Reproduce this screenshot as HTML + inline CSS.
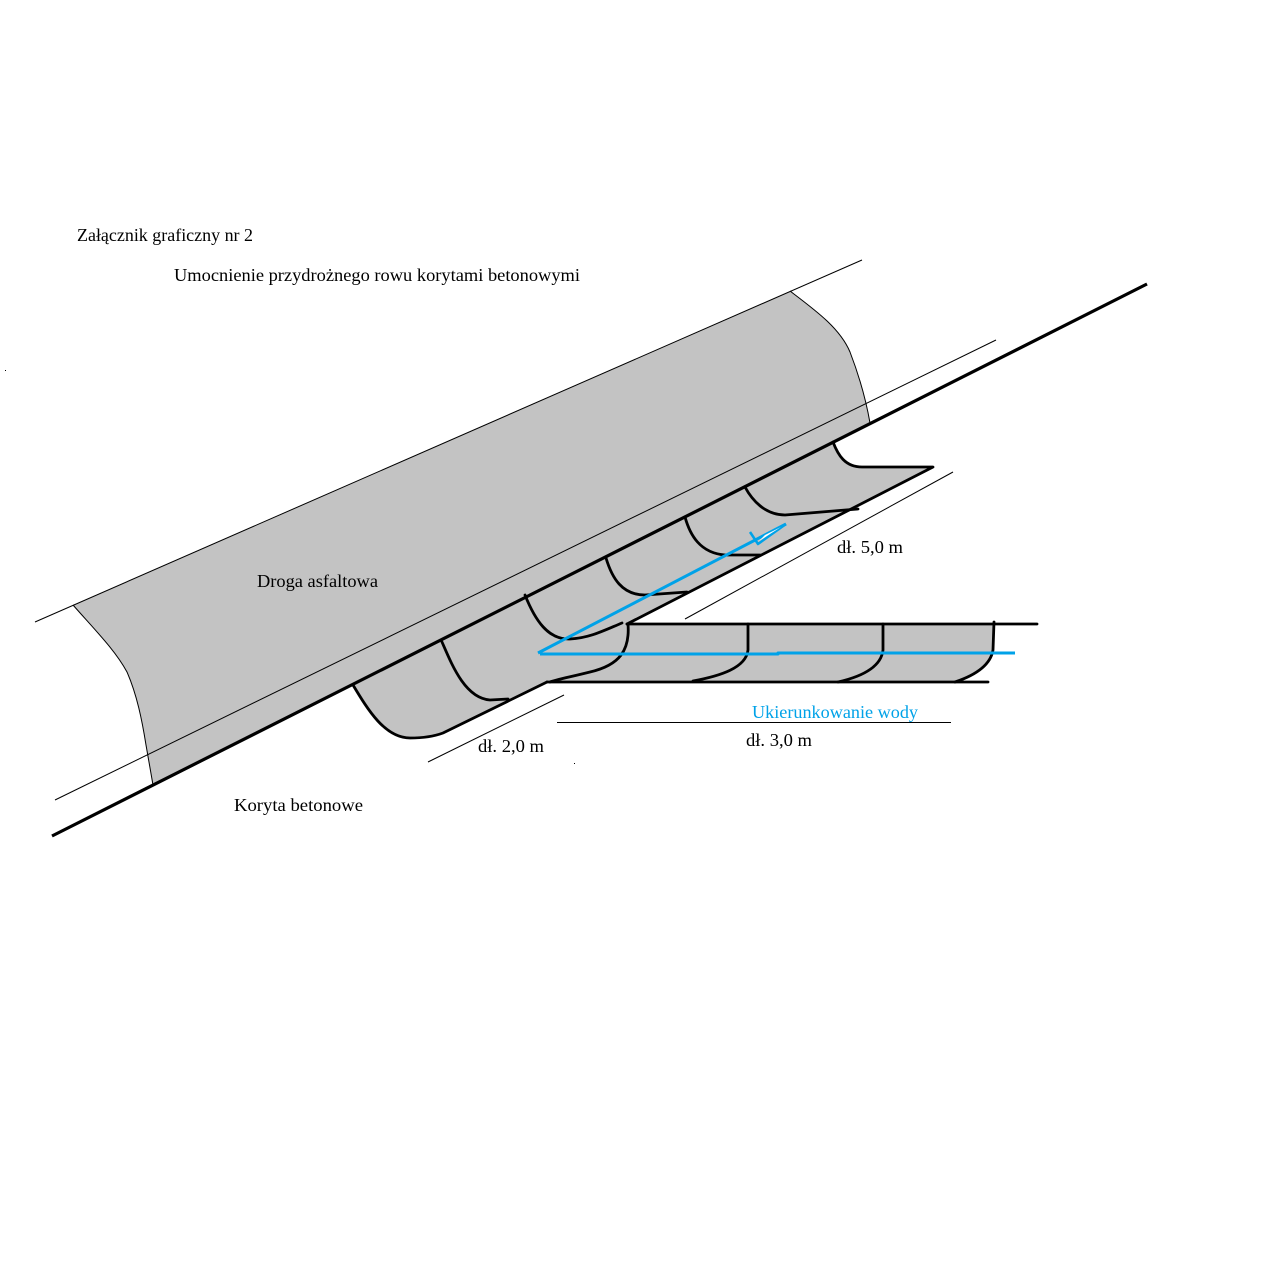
<!DOCTYPE html>
<html>
<head>
<meta charset="utf-8">
<style>
  html, body { margin: 0; padding: 0; background: #ffffff; }
  body { width: 1264px; height: 1264px; overflow: hidden; }
  svg { display: block; }
  text { font-family: "Liberation Serif", "DejaVu Serif", serif; font-size: 18.4px; }
</style>
</head>
<body>
<svg width="1264" height="1264" viewBox="0 0 1264 1264" xmlns="http://www.w3.org/2000/svg">
  <rect x="0" y="0" width="1264" height="1264" fill="#ffffff"/>

  <!-- Road gray fill -->
  <path d="M73,605 L790,291 C815,310 840,328 850,352 C860,378 866,400 870,423 L153,785 L146,745 C142,720 137,695 127,672 C115,650 95,630 73,605 Z" fill="#c3c3c3"/>

  <!-- Trough gray fill -->
  <path d="M353,685 C368,710 385,738 410,738 C425,738 435,736 443,733 L547,682 L955,682 C975,675 990,665 993,645 L994,624 L627,624 L933,467 L862,467 C845,467 838,455 833,442 Z" fill="#c3c3c3"/>

  <!-- Thin lines -->
  <g stroke="#000" stroke-width="1" fill="none">
    <line x1="35" y1="622" x2="862" y2="260"/>
    <line x1="55" y1="800" x2="996" y2="340"/>
    <path d="M790,291 C815,310 840,328 850,352 C860,378 866,400 870,423"/>
    <path d="M73,605 C95,630 115,650 127,672 C137,695 142,720 146,745 L153,785"/>
    <!-- dimension lines -->
    <line x1="685" y1="619" x2="953" y2="472"/>
    <line x1="428" y1="762" x2="564" y2="695"/>
    <line x1="557" y1="722.5" x2="951" y2="722.5"/>
  </g>

  <!-- Thick main line -->
  <line x1="52" y1="836" x2="1147" y2="284" stroke="#000" stroke-width="3.2"/>

  <!-- Trough outlines -->
  <g stroke="#000" stroke-width="2.8" fill="none" stroke-linecap="round" stroke-linejoin="round">
    <path d="M353,685 C368,710 385,738 410,738 C425,738 435,736 443,733 L547,682"/>
    <line x1="547" y1="682" x2="988" y2="682"/>
    <line x1="627" y1="624" x2="1037" y2="624"/>
    <path d="M627,624 L933,467 L862,467 C845,467 838,455 833,442"/>
    <!-- diagonal trough dividers -->
    <path d="M442,642 C452,665 465,698 490,700 L508,699"/>
    <path d="M525,595 C535,620 548,640 570,639 C590,638 605,630 622,623"/>
    <path d="M606,558 C612,578 622,595 645,595 L687,592"/>
    <path d="M685,517 C690,535 700,553 725,555 L760,555"/>
    <path d="M745,487 C752,500 765,515 785,515 L858,509"/>
    <!-- horizontal channel dividers -->
    <path d="M628,624 C630,650 620,665 590,672 C570,677 555,680 550,682"/>
    <path d="M748,624 L748,650 C746,668 720,676 693,681"/>
    <path d="M883,624 L883,650 C881,668 860,677 838,682"/>
    <path d="M994,622 L993,650 C990,668 970,677 955,682"/>
  </g>

  <!-- Blue water direction -->
  <g stroke="#00a2e8" stroke-width="3" fill="none" stroke-linejoin="round">
    <path d="M540,654 L778,654 L778,653 L1015,653"/>
    <line x1="538" y1="653" x2="786" y2="524"/>
    <path d="M750,532 L758,544 L786,524" stroke-width="2.5"/>
  </g>
  <polygon points="759,541 781,527 765,535" fill="#ffffff"/>

  <!-- tiny dots -->
  <rect x="5" y="370" width="1" height="1" fill="#000"/>
  <rect x="574" y="763" width="1" height="1" fill="#000"/>

  <!-- Text -->
  <text x="77" y="241" fill="#000" textLength="176" lengthAdjust="spacingAndGlyphs">Załącznik graficzny nr 2</text>
  <text x="174" y="281" fill="#000" textLength="406" lengthAdjust="spacingAndGlyphs">Umocnienie przydrożnego rowu korytami betonowymi</text>
  <text x="257" y="587" fill="#000" textLength="121" lengthAdjust="spacingAndGlyphs">Droga asfaltowa</text>
  <text x="234" y="811" fill="#000" textLength="129" lengthAdjust="spacingAndGlyphs">Koryta betonowe</text>
  <text x="837" y="553" fill="#000" textLength="66" lengthAdjust="spacingAndGlyphs">dł. 5,0 m</text>
  <text x="478" y="752" fill="#000" textLength="66" lengthAdjust="spacingAndGlyphs">dł. 2,0 m</text>
  <text x="746" y="746" fill="#000" textLength="66" lengthAdjust="spacingAndGlyphs">dł. 3,0 m</text>
  <text x="752" y="718" fill="#00a2e8" textLength="166" lengthAdjust="spacingAndGlyphs">Ukierunkowanie wody</text>
</svg>
</body>
</html>
